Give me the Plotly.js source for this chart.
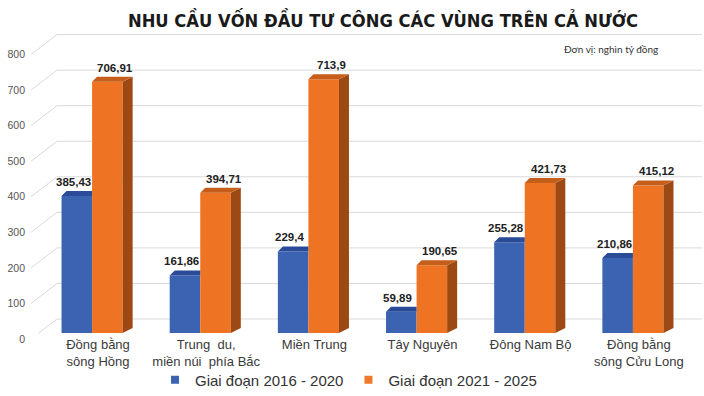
<!DOCTYPE html>
<html>
<head>
<meta charset="utf-8">
<script src="https://cdn.plot.ly/plotly-3.0.1.min.js"></script>
<style>html,body{margin:0;padding:0;background:#fff;}#chart{width:704px;height:396px;}</style>
</head>
<body>
<div id="chart"></div>
<script>
// ---- data ----
const categories = ["Đồng bằng<br>sông Hồng", "Trung  du,<br>miền núi  phía Bắc", "Miền Trung", "Tây Nguyên", "Đông Nam Bộ", "Đồng bằng<br>sông Cửu Long"];
const series1Name = "Giai đoạn 2016 - 2020";
const series2Name = "Giai đoạn 2021 - 2025";
const values2016 = [385.43, 161.86, 229.4, 59.89, 255.28, 210.86];
const values2021 = [706.91, 394.71, 713.9, 190.65, 421.73, 415.12];
const labels2016 = ["385,43", "161,86", "229,4", "59,89", "255,28", "210,86"];
const labels2021 = ["706,91", "394,71", "713,9", "190,65", "421,73", "415,12"];
const yTicks = [0, 100, 200, 300, 400, 500, 600, 700, 800];

// ---- geometry / style constants ----
const M = {l: 38, r: 17, t: 30, b: 63};
const W = 704, H = 396;
const plotW = W - M.l - M.r, plotH = H - M.t - M.b;
const pxPerUnitY = 0.3555;
const yMax = plotH / pxPerUnitY;
const pxPerUnitX = plotW / 6;
const barW = 0.2825;
const dy = 5 / pxPerUnitY;         // depth rise (in data units)
const dxL = 5 / pxPerUnitX;        // depth shift at left edge
const dxR = 10 / pxPerUnitX;       // depth shift at right edge

const C = {
  blue: "#3b63b2", blueTop: "#2a4b98",
  orange: "#ee7423", orangeTop: "#c65e1b", orangeSide: "#9c4913"
};

const xIdx = categories.map((_, i) => i);

function poly(list) {
  const xs = [], ys = [];
  list.forEach(p => { p.forEach(pt => { xs.push(pt[0]); ys.push(pt[1]); }); xs.push(null); ys.push(null); });
  return {xs, ys};
}

const blueTops = poly(values2016.map((v, i) => {
  const l = i - barW, r = i;
  return [[l, v], [r, v], [r, v + dy], [l + dxL, v + dy], [l, v]];
}));
const orangeTops = poly(values2021.map((v, i) => {
  const l = i, r = i + barW;
  return [[l, v], [r, v], [r + dxR, v + dy], [l + dxL, v + dy], [l, v]];
}));
const orangeSides = poly(values2021.map((v, i) => {
  const r = i + barW;
  return [[r, 0], [r + dxR, dy], [r + dxR, v + dy], [r, v], [r, 0]];
}));

function faceTrace(p, color) {
  return {type: "scatter", x: p.xs, y: p.ys, mode: "lines", fill: "toself",
    fillcolor: color, line: {width: 0, color: color}, hoverinfo: "skip", showlegend: false};
}

const traces = [
  {type: "bar", name: series1Name, x: xIdx, y: values2016, marker: {color: C.blue}, showlegend: false, hoverinfo: "y"},
  {type: "bar", name: series2Name, x: xIdx, y: values2021, marker: {color: C.orange}, showlegend: false, hoverinfo: "y"},
  faceTrace(blueTops, C.blueTop),
  faceTrace(orangeSides, C.orangeSide),
  faceTrace(orangeTops, C.orangeTop),
  {type: "scatter", x: [null], y: [null], mode: "markers", name: series1Name,
    marker: {symbol: "square", size: 8, color: C.blue}},
  {type: "scatter", x: [null], y: [null], mode: "markers", name: series2Name,
    marker: {symbol: "square", size: 8, color: "#ef7a2a"}}
];

// gridlines (perspective back wall)
const px2paperX = px => (px - M.l) / plotW;
const shapes = [];
yTicks.forEach(v => {
  shapes.push({type: "line", layer: "below", xref: "paper", yref: "y", ysizemode: "pixel", yanchor: v,
    x0: px2paperX(31), x1: px2paperX(57), y0: -6, y1: 14, line: {color: "#d9d9d9", width: 1}});
  shapes.push({type: "line", layer: "below", xref: "paper", yref: "y", ysizemode: "pixel", yanchor: v,
    x0: px2paperX(57), x1: px2paperX(702), y0: 14, y1: 14, line: {color: "#d9d9d9", width: 1}});
});

const labelFont = {family: "Liberation Sans, Arial, sans-serif", size: 11.5, color: "#222", weight: 700};
const annotations = [];
values2016.forEach((v, i) => annotations.push({x: i - barW / 2, y: v, text: labels2016[i], showarrow: false,
  xshift: -3.5, yshift: 14, yanchor: "middle", font: labelFont}));
values2021.forEach((v, i) => annotations.push({x: i + barW / 2, y: v, text: labels2021[i], showarrow: false,
  xshift: 8, yshift: 14, yanchor: "middle", font: labelFont}));
annotations.push({xref: "paper", yref: "paper", x: px2paperX(611), y: (H - M.b - 49) / plotH, text: "Đơn vị: nghìn tỷ đồng",
  showarrow: false, xanchor: "center", yanchor: "middle", font: {family: "Lato, Open Sans, sans-serif", size: 10, color: "#333"}});

const layout = {
  width: W, height: H,
  margin: M,
  paper_bgcolor: "#fff", plot_bgcolor: "rgba(0,0,0,0)",
  title: {text: "NHU CẦU VỐN ĐẦU TƯ CÔNG CÁC VÙNG TRÊN CẢ NƯỚC", x: 383 / W, xanchor: "center",
    y: 1 - 21 / H, yanchor: "middle", yref: "container",
    font: {family: "DejaVu Sans Condensed, Liberation Sans Narrow, sans-serif", size: 18.2, weight: 700, color: "#1a1a1a"}},
  barmode: "group", bargap: 0.435, bargroupgap: 0,
  xaxis: {range: [-0.5, 5.5], tickvals: xIdx.map(i => i + 0.055), ticktext: categories, showgrid: false,
    zeroline: false, showline: false, ticks: "", fixedrange: true, ticklabelstandoff: 2,
    tickfont: {family: "Liberation Sans, Arial, sans-serif", size: 13, color: "#3a3a3a"}},
  yaxis: {range: [0, yMax], tickvals: yTicks, showgrid: false, zeroline: false, showline: false, ticks: "",
    ticklabelshift: 6, ticklabelstandoff: 12, fixedrange: true,
    tickfont: {family: "Liberation Sans, Arial, sans-serif", size: 10.5, color: "#555"}},
  showlegend: true,
  legend: {orientation: "h", xref: "container", yref: "container", x: 155 / W, xanchor: "left",
    y: 1 - 380 / H, yanchor: "middle", itemwidth: 30, bgcolor: "rgba(0,0,0,0)",
    font: {family: "Liberation Sans, Arial, sans-serif", size: 15, color: "#333"}},
  shapes: shapes,
  annotations: annotations
};

Plotly.newPlot("chart", traces, layout, {displayModeBar: false, staticPlot: true});
</script>
</body>
</html>
